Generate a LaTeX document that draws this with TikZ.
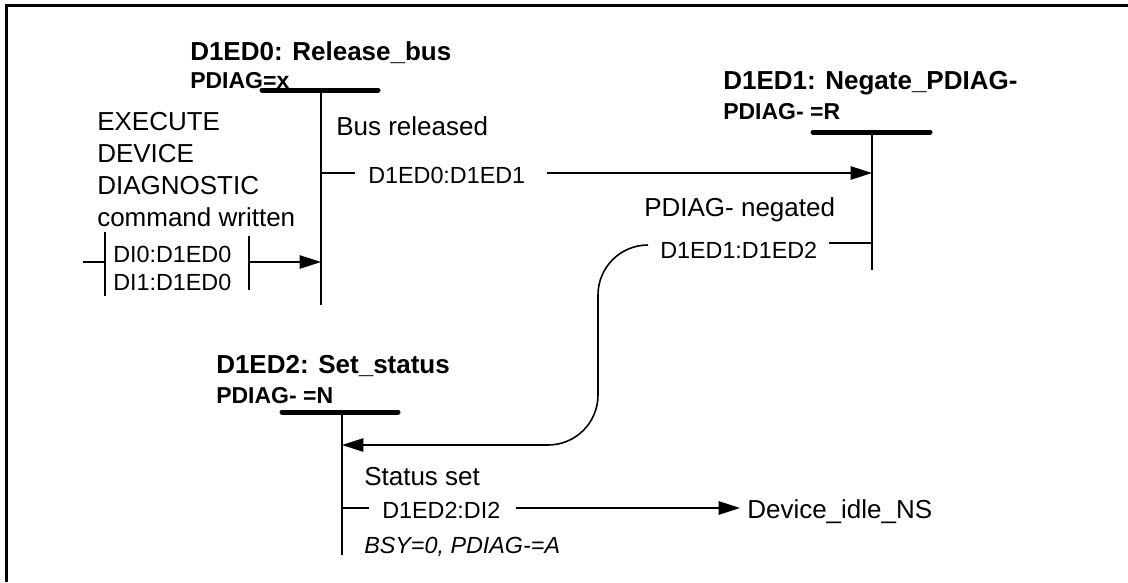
\documentclass[tikz,border=0pt]{standalone}
\usepackage{fontspec}
\setmainfont{Liberation Sans}
\usetikzlibrary{arrows.meta}
\begin{document}
\begin{tikzpicture}[x=0.75pt,y=-0.75pt,
  ttl/.style={anchor=base west, inner sep=0pt, font=\fontsize{19.5}{23}\selectfont\bfseries},
  sub/.style={anchor=base west, inner sep=0pt, font=\fontsize{17.25}{20}\selectfont\bfseries},
  desc/.style={anchor=base west, inner sep=0pt, font=\fontsize{19.5}{23}\selectfont},
  lbl/.style={anchor=base west, inner sep=0pt, font=\fontsize{17.5}{21}\selectfont},
  cond/.style={anchor=base west, inner sep=0pt, font=\fontsize{17.5}{21}\selectfont\itshape},
  bar/.style={line width=3.75pt, line cap=round},
  life/.style={line width=1.5pt},
  conn/.style={line width=1.2pt},
  arr/.style={conn, -{Triangle[length=16pt,width=10pt]}},
  frame/.style={line width=2.25pt}
]
\useasboundingbox (0,0) rectangle (1128,582);
% frame (top and left only)
\coordinate (fbl) at (6.5,582);
\coordinate (ftl) at (6.5,5.5);
\coordinate (ftr) at (1128,5.5);
\draw[frame] (fbl) -- (ftl) -- (ftr);

% ---------------- State D1ED0 ----------------
\node[ttl] (t0) at (190,60) {D1ED0: Release\_bus};
\node[sub] (p0) at (190,88) {PDIAG=x};
\coordinate (b0l) at (262,90);
\coordinate (b0r) at (378,90);
\draw[bar] (b0l) -- (b0r);
\coordinate (v0t) at (321,90);
\coordinate (v0b) at (321,305);
\draw[life] (v0t) -- (v0b);

% entry (left)
\node[desc] (e1) at (97,130) {EXECUTE};
\node[desc] (e2) at (97,162) {DEVICE};
\node[desc] (e3) at (97,194) {DIAGNOSTIC};
\node[desc] (e4) at (97,226) {command written};
\node[lbl] (i0) at (113,262) {DI0:D1ED0};
\node[lbl] (i1) at (113,290) {DI1:D1ED0};
\coordinate (lbt) at (105,232);
\coordinate (lbb) at (105,296);
\draw[conn] (lbt) -- (lbb);
\coordinate (lti) at (83,262);
\coordinate (ltm) at (105,262);
\draw[conn] (lti) -- (ltm);
\coordinate (rbt) at (249,236);
\coordinate (rbb) at (249,290);
\draw[conn] (rbt) -- (rbb);
\coordinate (ra) at (249,262);
\coordinate (rb) at (321,262);
\draw[arr] (ra) -- (rb);

% transition D1ED0 -> D1ED1
\node[desc] (d0) at (336,135) {Bus released};
\coordinate (k0a) at (321,173);
\coordinate (k0b) at (355,173);
\draw[conn] (k0a) -- (k0b);
\node[lbl] (l01) at (368,183) {D1ED0:D1ED1};
\coordinate (a01s) at (547,173);
\coordinate (a01e) at (872,173);
\draw[arr] (a01s) -- (a01e);

% ---------------- State D1ED1 ----------------
\node[ttl] (t1) at (723,89) {D1ED1: Negate\_PDIAG-};
\node[sub] (p1) at (723,119) {PDIAG- =R};
\coordinate (b1l) at (813,132);
\coordinate (b1r) at (930,132);
\draw[bar] (b1l) -- (b1r);
\coordinate (v1t) at (872,132);
\coordinate (v1b) at (872,270);
\draw[life] (v1t) -- (v1b);

% transition D1ED1 -> D1ED2
\node[desc] (d1) at (644,216) {PDIAG- negated};
\coordinate (k1a) at (872,243);
\coordinate (k1b) at (829,243);
\draw[conn] (k1a) -- (k1b);
\node[lbl] (l12) at (660,258) {D1ED1:D1ED2};
\coordinate (c1) at (648,245);
\coordinate (c2) at (598,245);
\coordinate (c3) at (598,445);
\coordinate (c4) at (342,445);
\draw[arr, rounded corners=37.5pt] (c1) -- (c2) -- (c3) -- (c4);

% ---------------- State D1ED2 ----------------
\node[ttl] (t2) at (216,373) {D1ED2: Set\_status};
\node[sub] (p2) at (216,403) {PDIAG- =N};
\coordinate (b2l) at (282,412);
\coordinate (b2r) at (398,412);
\draw[bar] (b2l) -- (b2r);
\coordinate (v2t) at (342,412);
\coordinate (v2b) at (342,555);
\draw[life] (v2t) -- (v2b);

% transition D1ED2 -> Device_idle_NS
\node[desc] (d2) at (364,485) {Status set};
\coordinate (k2a) at (342,508);
\coordinate (k2b) at (369,508);
\draw[conn] (k2a) -- (k2b);
\node[lbl] (l2i) at (382,518) {D1ED2:DI2};
\coordinate (a2s) at (516,508);
\coordinate (a2e) at (740,508);
\draw[arr] (a2s) -- (a2e);
\node[desc] (idle) at (747,518) {Device\_idle\_NS};
\node[cond] (bsy) at (364,553) {BSY=0, PDIAG-=A};
\end{tikzpicture}
\end{document}
